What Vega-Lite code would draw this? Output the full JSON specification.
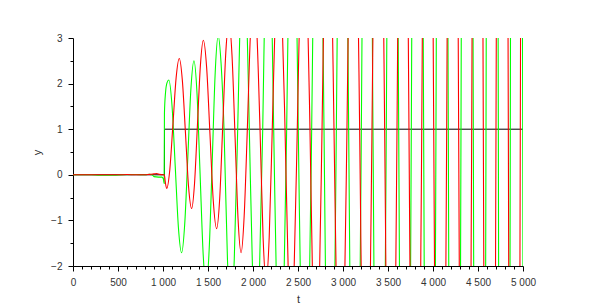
{
  "$schema": "https://vega.github.io/schema/vega-lite/v6.json",
  "autosize": "none",
  "width": 450,
  "height": 228,
  "padding": {"left": 73, "top": 38, "right": 77, "bottom": 38},
  "background": "white",
  "config": {
    "view": {"stroke": null},
    "axis": {
      "grid": false,
      "domainColor": "#000000",
      "tickColor": "#000000",
      "domainWidth": 1,
      "tickWidth": 1,
      "labelColor": "#333333",
      "labelFont": "Liberation Sans",
      "labelFontSize": 10,
      "titleFont": "Liberation Sans",
      "titleFontSize": 11,
      "titleFontWeight": "normal",
      "titleColor": "#333333",
      "labelFlush": false,
      "labelOverlap": false
    }
  },
  "datasets": {
    "black": [
      {"t": 0, "y": 0}, {"t": 1016, "y": 0}, {"t": 1017, "y": 1}, {"t": 5000, "y": 1}
    ],
    "green": [
      {"t": 0, "y": 0}, {"t": 200, "y": 0}, {"t": 300, "y": -0.01}, {"t": 450, "y": -0.01}, {"t": 550, "y": 0},
      {"t": 700, "y": 0.005}, {"t": 800, "y": 0}, {"t": 850, "y": 0.01}, {"t": 880, "y": 0}, {"t": 900, "y": -0.04},
      {"t": 950, "y": -0.05}, {"t": 990, "y": -0.05}, {"t": 1005, "y": -0.1}, {"t": 1013, "y": -0.19},
      {"t": 1016, "y": 1.35}, {"t": 1028, "y": 1.8}, {"t": 1045, "y": 2.02}, {"t": 1065, "y": 2.08},
      {"t": 1100, "y": 1.52}, {"t": 1136, "y": 0.185}, {"t": 1171, "y": -1.15}, {"t": 1207, "y": -1.71},
      {"t": 1241, "y": -1.09}, {"t": 1276, "y": 0.395}, {"t": 1310, "y": 1.88}, {"t": 1344, "y": 2.5},
      {"t": 1378, "y": 1.78}, {"t": 1412, "y": 0.025}, {"t": 1446, "y": -1.73}, {"t": 1480, "y": -2.45},
      {"t": 1513, "y": -1.64}, {"t": 1547, "y": 0.3}, {"t": 1580, "y": 2.24}, {"t": 1613, "y": 3.05},
      {"t": 1645, "y": 2.45},
      {"t": 1678, "y": 1}, {"t": 1716, "y": -1.84}, {"t": 1754, "y": -3.0}, {"t": 1792, "y": -1.84},
      {"t": 1830, "y": 1}, {"t": 1862, "y": 3.84}, {"t": 1894, "y": 5.0}, {"t": 1927, "y": 3.84},
      {"t": 1959, "y": 1}, {"t": 1996, "y": -2.2}, {"t": 2033, "y": -3.5}, {"t": 2071, "y": -2.2},
      {"t": 2108, "y": 1}, {"t": 2138, "y": 4.55}, {"t": 2169, "y": 6.0}, {"t": 2200, "y": 4.55},
      {"t": 2230, "y": 1}, {"t": 2266, "y": -2.98}, {"t": 2302, "y": -4.6}, {"t": 2338, "y": -2.98},
      {"t": 2374, "y": 1}, {"t": 2406, "y": 5.47}, {"t": 2438, "y": 7.3}, {"t": 2471, "y": 5.47},
      {"t": 2503, "y": 1}, {"t": 2540, "y": -3.97}, {"t": 2577, "y": -6.0}, {"t": 2615, "y": -3.97},
      {"t": 2652, "y": 1}, {"t": 2686, "y": 6.61}, {"t": 2720, "y": 8.9}, {"t": 2755, "y": 6.61},
      {"t": 2789, "y": 1}, {"t": 2823, "y": -5.25}, {"t": 2857, "y": -7.8}, {"t": 2892, "y": -5.25},
      {"t": 2926, "y": 1}, {"t": 2960, "y": 8.03}, {"t": 2994, "y": 10.9}, {"t": 3029, "y": 8.03},
      {"t": 3063, "y": 1}, {"t": 3098, "y": -6.88}, {"t": 3133, "y": -10.1}, {"t": 3169, "y": -6.88},
      {"t": 3204, "y": 1}, {"t": 3236, "y": 9.8}, {"t": 3268, "y": 13.4}, {"t": 3301, "y": 9.8},
      {"t": 3333, "y": 1}, {"t": 3370, "y": -8.87}, {"t": 3407, "y": -12.9}, {"t": 3444, "y": -8.87},
      {"t": 3481, "y": 1}, {"t": 3515, "y": 12.08}, {"t": 3550, "y": 16.6}, {"t": 3584, "y": 12.08},
      {"t": 3619, "y": 1}, {"t": 3654, "y": -11.35}, {"t": 3689, "y": -16.4}, {"t": 3724, "y": -11.35},
      {"t": 3759, "y": 1}, {"t": 3793, "y": 14.85}, {"t": 3827, "y": 20.5}, {"t": 3862, "y": 14.85},
      {"t": 3896, "y": 1}, {"t": 3930, "y": -14.55}, {"t": 3964, "y": -20.9}, {"t": 3999, "y": -14.55},
      {"t": 4033, "y": 1}, {"t": 4067, "y": 18.4}, {"t": 4101, "y": 25.5}, {"t": 4136, "y": 18.4},
      {"t": 4170, "y": 1}, {"t": 4205, "y": -18.5}, {"t": 4240, "y": -26.5}, {"t": 4276, "y": -18.5},
      {"t": 4311, "y": 1}, {"t": 4345, "y": 22.9}, {"t": 4379, "y": 31.8}, {"t": 4414, "y": 22.9},
      {"t": 4448, "y": 1}, {"t": 4483, "y": -23.4}, {"t": 4518, "y": -33.4}, {"t": 4554, "y": -23.4},
      {"t": 4589, "y": 1}, {"t": 4623, "y": 28.4}, {"t": 4657, "y": 39.6}, {"t": 4692, "y": 28.4},
      {"t": 4726, "y": 1}, {"t": 4759, "y": -29.7}, {"t": 4792, "y": -42.2}, {"t": 4826, "y": -29.7},
      {"t": 4859, "y": 1}, {"t": 4893, "y": 35.3}, {"t": 4928, "y": 49.3}, {"t": 4962, "y": 35.3},
      {"t": 4997, "y": 1}, {"t": 5000, "y": -2.7}
    ],
    "red": [
      {"t": 0, "y": 0}, {"t": 300, "y": 0}, {"t": 500, "y": 0}, {"t": 600, "y": 0.005}, {"t": 700, "y": 0},
      {"t": 800, "y": 0}, {"t": 850, "y": 0.01}, {"t": 900, "y": 0.02}, {"t": 930, "y": 0.03}, {"t": 960, "y": 0.01},
      {"t": 1000, "y": 0}, {"t": 1015, "y": 0}, {"t": 1025, "y": -0.15}, {"t": 1041, "y": -0.3},
      {"t": 1076, "y": 0.12}, {"t": 1111, "y": 1.125}, {"t": 1146, "y": 2.13}, {"t": 1181, "y": 2.55},
      {"t": 1215, "y": 2.07}, {"t": 1250, "y": 0.905}, {"t": 1284, "y": -0.26}, {"t": 1318, "y": -0.74},
      {"t": 1350, "y": -0.2}, {"t": 1383, "y": 1.105}, {"t": 1416, "y": 2.41}, {"t": 1448, "y": 2.95},
      {"t": 1485, "y": 2.35}, {"t": 1522, "y": 0.885}, {"t": 1559, "y": -0.58}, {"t": 1596, "y": -1.18},
      {"t": 1630, "y": -0.52}, {"t": 1664, "y": 1.085}, {"t": 1698, "y": 2.69}, {"t": 1733, "y": 3.35},
      {"t": 1767, "y": 2.61}, {"t": 1801, "y": 0.82}, {"t": 1834, "y": -0.97}, {"t": 1868, "y": -1.71},
      {"t": 1902, "y": -0.9},
      {"t": 1937, "y": 1}, {"t": 1972, "y": 3.12}, {"t": 2007, "y": 3.98}, {"t": 2043, "y": 3.12},
      {"t": 2078, "y": 1}, {"t": 2112, "y": -1.37}, {"t": 2146, "y": -2.34}, {"t": 2180, "y": -1.37},
      {"t": 2214, "y": 1}, {"t": 2250, "y": 3.66}, {"t": 2285, "y": 4.74}, {"t": 2320, "y": 3.66},
      {"t": 2356, "y": 1}, {"t": 2390, "y": -1.97}, {"t": 2424, "y": -3.19}, {"t": 2458, "y": -1.97},
      {"t": 2492, "y": 1}, {"t": 2527, "y": 4.33}, {"t": 2562, "y": 5.69}, {"t": 2598, "y": 4.33},
      {"t": 2633, "y": 1}, {"t": 2666, "y": -2.73}, {"t": 2700, "y": -4.25}, {"t": 2734, "y": -2.73},
      {"t": 2767, "y": 1}, {"t": 2800, "y": 5.17}, {"t": 2833, "y": 6.88}, {"t": 2867, "y": 5.17},
      {"t": 2900, "y": 1}, {"t": 2936, "y": -3.68}, {"t": 2972, "y": -5.59}, {"t": 3008, "y": -3.68},
      {"t": 3044, "y": 1}, {"t": 3079, "y": 6.24}, {"t": 3114, "y": 8.38}, {"t": 3150, "y": 6.24},
      {"t": 3185, "y": 1}, {"t": 3219, "y": -4.86}, {"t": 3253, "y": -7.26}, {"t": 3288, "y": -4.86},
      {"t": 3322, "y": 1}, {"t": 3357, "y": 7.57}, {"t": 3392, "y": 10.25}, {"t": 3428, "y": 7.57},
      {"t": 3463, "y": 1}, {"t": 3497, "y": -6.38}, {"t": 3531, "y": -9.4}, {"t": 3566, "y": -6.38},
      {"t": 3600, "y": 1}, {"t": 3633, "y": 9.24}, {"t": 3666, "y": 12.6}, {"t": 3700, "y": 9.24},
      {"t": 3733, "y": 1}, {"t": 3768, "y": -8.23}, {"t": 3804, "y": -12.0}, {"t": 3839, "y": -8.23},
      {"t": 3875, "y": 1}, {"t": 3908, "y": 11.37}, {"t": 3941, "y": 15.6}, {"t": 3975, "y": 11.37},
      {"t": 4008, "y": 1}, {"t": 4044, "y": -10.57}, {"t": 4080, "y": -15.3}, {"t": 4116, "y": -10.57},
      {"t": 4152, "y": 1}, {"t": 4185, "y": 13.99}, {"t": 4218, "y": 19.3}, {"t": 4252, "y": 13.99},
      {"t": 4285, "y": 1}, {"t": 4321, "y": -13.56}, {"t": 4357, "y": -19.5}, {"t": 4394, "y": -13.56},
      {"t": 4430, "y": 1}, {"t": 4462, "y": 17.26}, {"t": 4494, "y": 23.9}, {"t": 4527, "y": 17.26},
      {"t": 4559, "y": 1}, {"t": 4594, "y": -17.25}, {"t": 4630, "y": -24.7}, {"t": 4665, "y": -17.25},
      {"t": 4700, "y": 1}, {"t": 4734, "y": 21.45}, {"t": 4768, "y": 29.8}, {"t": 4803, "y": 21.45},
      {"t": 4837, "y": 1}, {"t": 4870, "y": -21.86}, {"t": 4903, "y": -31.2}, {"t": 4937, "y": -21.86},
      {"t": 4970, "y": 1}, {"t": 5000, "y": 23.7}
    ]
  },
  "resolve": {"axis": {"x": "independent", "y": "independent"}},
  "layer": [
    {
      "data": {"name": "black"},
      "mark": {"type": "line", "color": "#000000", "strokeWidth": 1, "clip": true},
      "encoding": {
        "x": {
          "field": "t", "type": "quantitative",
          "scale": {"domain": [0, 5000], "nice": false, "zero": false},
          "axis": {
            "orient": "bottom", "domain": false, "labels": false, "title": null, "tickSize": 3,
            "values": [100, 200, 300, 400, 600, 700, 800, 900, 1100, 1200, 1300, 1400, 1600, 1700, 1800, 1900,
                       2100, 2200, 2300, 2400, 2600, 2700, 2800, 2900, 3100, 3200, 3300, 3400, 3600, 3700, 3800, 3900,
                       4100, 4200, 4300, 4400, 4600, 4700, 4800, 4900]
          }
        },
        "y": {
          "field": "y", "type": "quantitative",
          "scale": {"domain": [-2, 3], "nice": false, "zero": false},
          "axis": {
            "orient": "left", "domain": false, "labels": false, "title": null, "tickSize": 3,
            "values": [-1.5, -0.5, 0.5, 1.5, 2.5]
          }
        }
      }
    },
    {
      "data": {"name": "green"},
      "mark": {"type": "line", "color": "#00ff00", "strokeWidth": 1.1, "clip": true, "interpolate": "monotone"},
      "encoding": {
        "x": {
          "field": "t", "type": "quantitative",
          "axis": {
            "orient": "bottom", "title": "t", "tickSize": 5, "labelPadding": 6, "titlePadding": 6,
            "values": [0, 500, 1000, 1500, 2000, 2500, 3000, 3500, 4000, 4500, 5000],
            "labelExpr": "replace(format(datum.value, ','), ',', ' ')"
          }
        },
        "y": {
          "field": "y", "type": "quantitative",
          "axis": {
            "orient": "left", "title": "y", "tickSize": 5, "labelPadding": 6, "titlePadding": 8,
            "values": [-2, -1, 0, 1, 2, 3]
          }
        }
      }
    },
    {
      "data": {"name": "red"},
      "mark": {"type": "line", "color": "#ff0000", "strokeWidth": 1.1, "clip": true, "interpolate": "monotone"},
      "encoding": {
        "x": {"field": "t", "type": "quantitative", "axis": null},
        "y": {"field": "y", "type": "quantitative", "axis": null}
      }
    }
  ]
}
